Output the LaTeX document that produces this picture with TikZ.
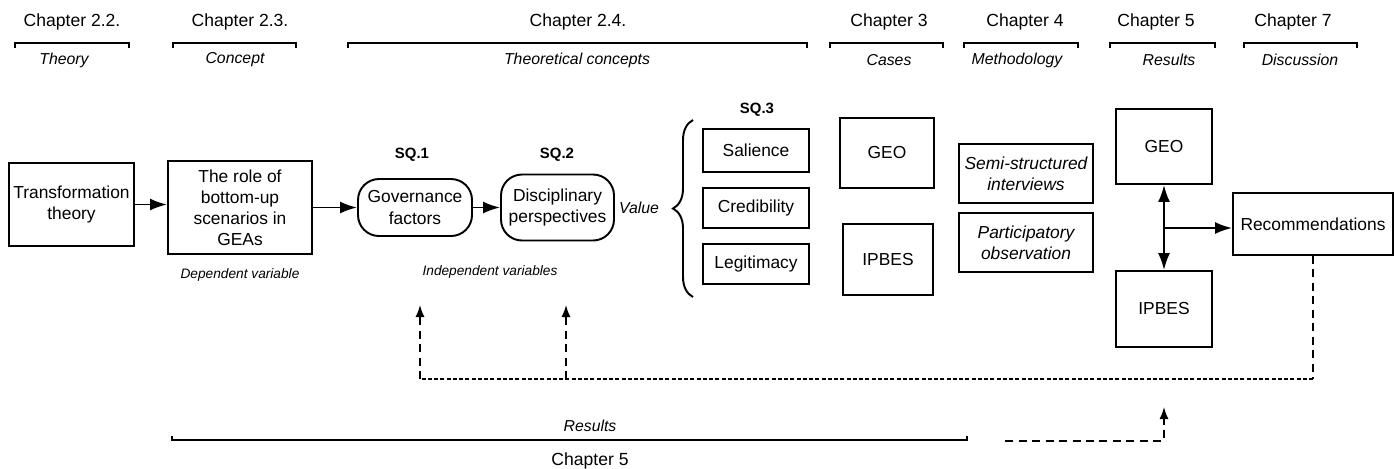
\documentclass[tikz,border=0pt]{standalone}
\usepackage{fontspec}
\setmainfont{Liberation Sans}
\usetikzlibrary{arrows.meta,decorations.pathreplacing}
\tikzset{
  sz/.style 2 args={minimum width=#1*0.02cm,minimum height=#2*0.02cm},
  box/.style={draw,line width=1.1pt,inner sep=0pt,align=center,font=\fontsize{9.9}{12}\selectfont},
  rbox/.style={box,rounded corners=0.42cm},
  hd/.style={font=\fontsize{10}{12}\selectfont},
  lab/.style={font=\fontsize{9}{11}\selectfont\itshape},
  note/.style={font=\fontsize{7.8}{9}\selectfont\itshape},
  sq/.style={font=\fontsize{8.5}{10}\selectfont\bfseries},
  tip/.tip={Latex[length=3.4mm,width=2.4mm]},
  smalltip/.tip={Latex[length=2.4mm,width=1.8mm]},
  flow/.style={line width=1.1pt,-tip},
  fb/.style={line width=0.8pt,dash pattern=on 1.6mm off 1.1mm},
  fbdense/.style={line width=0.8pt,dash pattern=on 0.8mm off 0.45mm},
}
\begin{document}
\begin{tikzpicture}[x=0.02cm,y=-0.02cm]
\useasboundingbox (0,0) rectangle (1395,468);
% chapter headers
\foreach \l/\r/\c/\t/\s/\u [count=\k] in {15/129/72/Chapter 2.2./64/Theory,
  173/296/240/Chapter 2.3./235/Concept,
  348/807/578/Chapter 2.4./577/Theoretical concepts,
  830/943/889/Chapter 3/889/Cases,
  964/1078/1025/Chapter 4/1017/Methodology,
  1110/1215/1156/Chapter 5/1169/Results,
  1244/1357/1293/Chapter 7/1300/Discussion}{
  \node[hd] (ch\k) at (\c,22) {\t};
  \draw[line width=1.1pt] (\l,48) -- (\l,43) -- (\r,43) -- (\r,48);
  \node[lab] (lab\k) at (\s,60) {\u};
}
% theory and concept
\node[box,sz={125}{83}] (trans) at (71.5,204.5) {Transformation\\theory};
\node[box,sz={144}{93}] (role) at (240,207.5) {The role of\\bottom-up\\scenarios in\\GEAs};
\node[note] (dep) at (240,275) {Dependent variable};
% sub-questions
\node[rbox,sz={114}{57}] (gov) at (415,207.5) {Governance\\factors};
\node[rbox,sz={113}{66}] (disc) at (557.5,207.5) {Disciplinary\\perspectives};
\node[sq] (sq1) at (412,155) {SQ.1};
\node[sq] (sq2) at (557,155) {SQ.2};
\node[sq] (sq3) at (757,110) {SQ.3};
\node[note] (indep) at (490,272) {Independent variables};
\node[lab] (val) at (639,208) {Value};
\draw[line width=1.1pt,decorate,decoration={brace,amplitude=0.4cm}] (693,297) -- (693,120);
\node[box,sz={106}{43}] (sal) at (756,150.5) {Salience};
\node[box,sz={106}{40}] (cred) at (756,208) {Credibility};
\node[box,sz={106}{40}] (legit) at (756,264) {Legitimacy};
% cases and methods
\node[box,sz={94}{70}] (geoc) at (887,153) {GEO};
\node[box,sz={90}{71}] (ipbesc) at (888,259.5) {IPBES};
\node[box,sz={134}{59},font=\fontsize{9.9}{12}\selectfont\itshape] (semi) at (1026,173.5) {Semi-structured\\interviews};
\node[box,sz={134}{59},font=\fontsize{9.9}{12}\selectfont\itshape] (part) at (1026,242.5) {Participatory\\observation};
% results and discussion
\node[box,sz={96}{75}] (geor) at (1164,146.5) {GEO};
\node[box,sz={96}{76}] (ipbesr) at (1164,309) {IPBES};
\node[box,sz={160}{62}] (rec) at (1313,224) {Recommendations};
\coordinate (junc) at (1164,228);
\draw[flow] (trans.east) -- (trans.east -| role.west);
\draw[flow] (role) -- (gov);
\draw[flow] (gov) -- (disc);
\draw[flow,tip-tip] (geor) -- (ipbesr);
\draw[flow] (junc) -- (junc -| rec.west);
% feedback
\coordinate (fbc) at (1313,379);
\coordinate (fb1) at (420,379);
\coordinate (fb2) at (566,379);
\coordinate (tip1) at (420,305);
\coordinate (tip2) at (566,305);
\draw[fb] (rec.south) -- (fbc);
\draw[fbdense] (fbc) -- (fb1);
\draw[fb,-smalltip] (fb1) -- (tip1);
\draw[fb,-smalltip] (fb2) -- (tip2);
% bottom
\draw[line width=1.1pt] (172,436) -- (172,440) -- (967,440) -- (967,436);
\node[lab] (res) at (590,426) {Results};
\node[hd] (ch5b) at (590,461) {Chapter 5};
\coordinate (bd) at (1005,441);
\coordinate (bt) at (1164,407);
\draw[fb,-smalltip] (bd) -| (bt);
\end{tikzpicture}
\end{document}
